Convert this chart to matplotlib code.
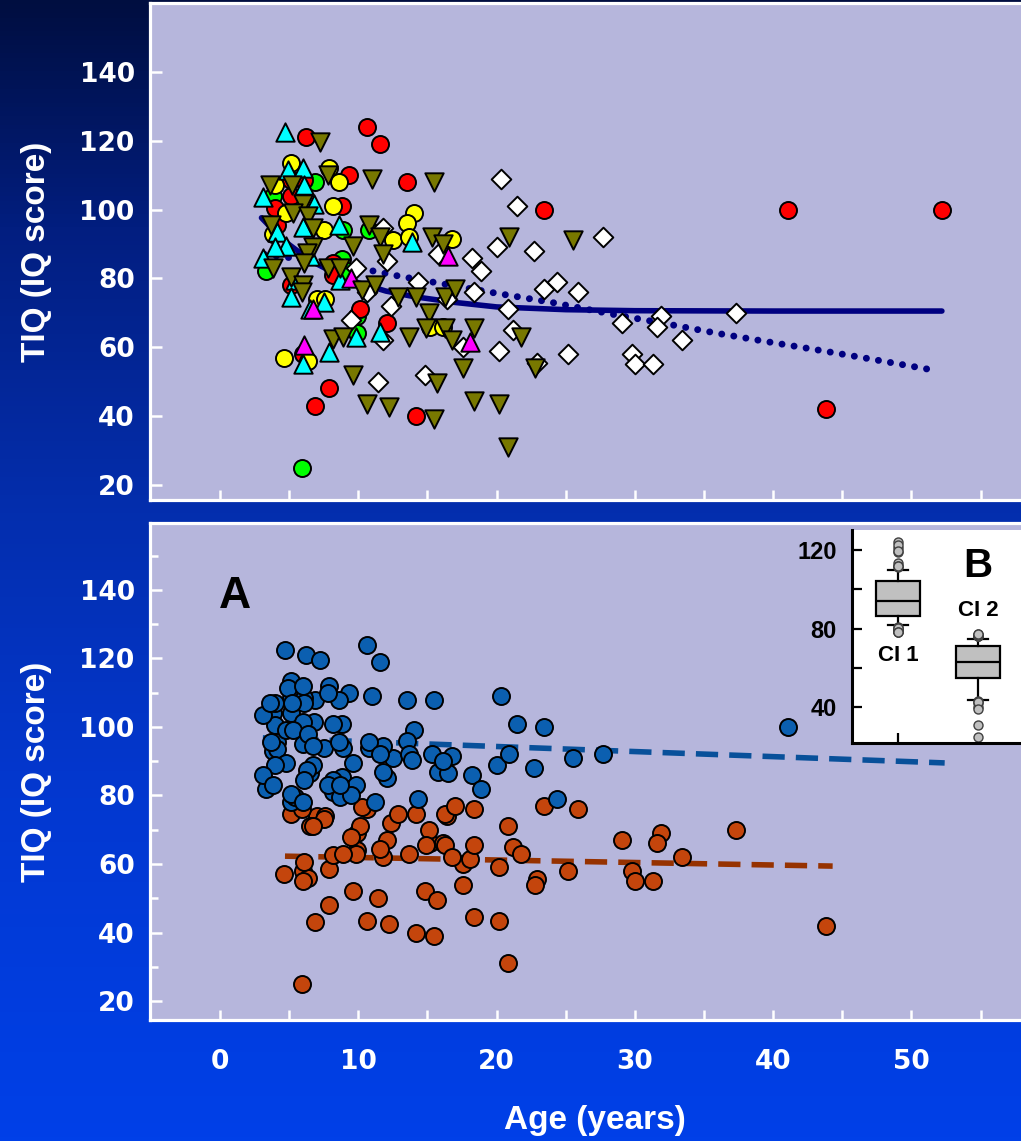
import numpy as np
import matplotlib
matplotlib.use("Agg")
import matplotlib.pyplot as plt
from matplotlib.colors import LinearSegmentedColormap

plt.rcParams['font.family'] = ['Liberation Sans', 'DejaVu Sans']
plt.rcParams['font.weight'] = 'bold'

# ---- data (age in years, TIQ) ----
red_age = [6.2, 10.6, 11.6, 9.3, 13.5, 23.4, 41.1, 52.2, 43.8, 14.2, 7.9, 6.9, 6.0, 10.1, 12.1,
           5.1, 4.0, 8.8, 4.1, 8.2, 8.2, 5.1, 5.1, 6.1]
red_iq = [121, 124, 119, 110, 108, 100, 100, 100, 42, 40, 48, 43, 58, 71, 67,
          104, 100.5, 101, 95.5, 84.5, 81, 78, 108.5, 108.5]

green_age = [5.9, 6.9, 3.8, 3.3, 8.8, 8.9, 10.8, 9.9, 9.9, 9.2]
green_iq = [25, 108, 104, 82, 85.5, 94, 94, 69, 64, 82]

yellow_age = [5.1, 7.9, 8.6, 4.0, 8.2, 4.8, 14.0, 13.5, 7.5, 12.5, 13.7, 3.8, 7.0, 7.6, 4.6, 6.4,
              15.2, 16.1, 16.8]
yellow_iq = [113.5, 112, 108, 107, 101, 99, 99, 96, 94, 91, 92, 93, 74, 74, 57, 56, 66, 66, 91.5]

cyan_age = [4.7, 4.9, 6.0, 3.1, 6.1, 6.8, 6.0, 4.1, 4.8, 4.0, 3.1, 8.6, 8.7, 5.4, 5.1, 7.5, 6.5,
            6.5, 7.9, 6.0, 9.8, 11.6, 13.9]
cyan_iq = [122.5, 111.5, 112, 103.5, 107, 101.5, 95, 93.5, 89.5, 89, 86, 95.5, 79.5, 79.5, 74.5,
           73, 71, 86.5, 58.5, 55, 63, 64.5, 90.5]

magenta_age = [9.5, 6.7, 6.1, 16.5, 18.1]
magenta_iq = [80, 71, 60.5, 86.5, 61.5]

white_age = [20.3, 21.5, 27.7, 22.7, 20.0, 15.8, 18.2, 18.9, 14.3, 18.4, 23.4, 24.4, 25.9, 20.8,
             31.9, 37.3, 29.1, 31.6, 33.4, 29.8, 30.0, 31.3, 25.2, 21.2, 17.6, 20.2, 22.9, 14.8,
             16.4, 11.8, 12.1, 9.8, 10.6, 12.4, 11.8, 11.4, 9.5]
white_iq = [109, 101, 92, 88, 89, 87, 86, 82, 79, 76, 77, 79, 76, 71, 69, 70, 67, 66, 62, 58, 55,
            55, 58, 65, 60, 59, 55.5, 52, 74, 94.5, 85, 83, 76, 72, 62, 50, 68]

olive_age = [7.2, 3.6, 5.2, 7.8, 6.0, 5.3, 6.4, 6.7, 3.7, 6.7, 6.3, 6.1, 3.8, 5.1, 6.0, 5.9, 7.8, 8.7,
             11.0, 15.5, 10.8, 11.6, 15.3, 16.1, 9.6, 11.8, 10.3, 11.2, 12.9, 14.2, 16.3, 15.1,
             14.9, 16.3, 8.2, 8.9, 13.7, 9.6, 15.7, 10.6, 12.2, 15.5, 20.9, 25.5, 17.0, 18.4,
             16.8, 21.8, 22.8, 17.6, 18.4, 20.2, 20.8]
olive_iq = [119.5, 107, 107, 110, 101.5, 99, 98, 94.5, 95.5, 89, 87.5, 84.5, 83, 80.5, 78, 76, 83, 83,
            109, 108, 95.5, 92, 92, 90, 89.5, 87, 76.5, 78, 74.5, 74.5, 74.5, 70,
            65.5, 65.5, 62.5, 63, 63, 52, 49.5, 43.5, 42.5, 39, 92, 91, 77, 65.5,
            62, 63, 54, 54, 44.5, 43.5, 31]

# fitted curves in the upper panel
fit_age = [3.0, 4.0, 5.0, 6.0, 7.0, 8.0, 10.0, 12.0, 14.0, 17.0, 20.0, 25.0, 30.0, 40.0, 52.2]
fit_iq = [97.6, 93.4, 89.8, 86.8, 84.2, 82.1, 78.7, 76.3, 74.7, 73.0, 71.7, 70.9, 70.6, 70.5, 70.5]
lin_age = [3.2, 6.0, 10.0, 13.0, 19.5, 24.0, 28.6, 32.0, 36.0, 40.0, 43.2, 47.0, 51.5]
lin_iq = [87, 85.5, 83, 80.6, 76, 73, 69.4, 67, 64, 61.3, 59.2, 56.6, 53.4]

# regression lines of the two clusters (lower panel)
ci1_line_age = [3.1, 52.4]
ci1_line_iq = [96.8, 89.5]
ci2_line_age = [4.7, 44.3]
ci2_line_iq = [62.3, 59.4]
cluster_split = 77.7

groups = [
    (green_age, green_iq, 'o', '#00ff00', 150),
    (red_age, red_iq, 'o', '#ff0000', 150),
    (yellow_age, yellow_iq, 'o', '#ffff00', 150),
    (white_age, white_iq, 'D', '#ffffff', 100),
    (cyan_age, cyan_iq, '^', '#00ffff', 175),
    (magenta_age, magenta_iq, '^', '#ff00ff', 175),
    (olive_age, olive_iq, 'v', '#787800', 175),
]

W, H = 1021, 1141
fig = plt.figure(figsize=(W / 100, H / 100), dpi=100)

# gradient background
bg = fig.add_axes([0, 0, 1, 1], zorder=-10)
cmap = LinearSegmentedColormap.from_list('bg', [(0.0, '#000e40'), (0.2, '#021e80'),
                                               (0.45, '#042eae'), (0.7, '#0338d0'),
                                               (1.0, '#0040e8')])
bg.imshow(np.linspace(0, 1, 256).reshape(-1, 1), aspect='auto', cmap=cmap,
          extent=[0, 1, 0, 1], origin='upper')
bg.axis('off')

panel_px = W - 150 + 10
panel_w = panel_px / W
ax1 = fig.add_axes([150 / W, 1 - 500 / H, panel_w, 497 / H])
ax2 = fig.add_axes([150 / W, 1 - 1020 / H, panel_w, 497 / H])

xt = np.arange(0, 60, 5)
xl = [str(v) if v % 10 == 0 else '' for v in xt]

for ax in (ax1, ax2):
    ax.set_facecolor('#b6b6dc')
    for s in ('left', 'bottom', 'top'):
        ax.spines[s].set_color('white')
        ax.spines[s].set_linewidth(2.3)
    ax.spines['right'].set_visible(False)
    ax.set_xlim(-5.06, -5.06 + panel_px / 13.83)
    ax.set_xticks(xt)
    ax.set_xticklabels(xl)
    ax.set_yticks([20, 40, 60, 80, 100, 120, 140])
    ax.tick_params(axis='y', direction='in', length=8.5, width=1.8, color='white',
                   labelcolor='white', labelsize=19, pad=11)
    ax.tick_params(axis='x', direction='in', length=7, width=1.8, color='white',
                   labelcolor='white', labelsize=19, pad=21)
    for lab in ax.get_xticklabels() + ax.get_yticklabels():
        lab.set_family('DejaVu Sans')
        lab.set_weight('bold')
    ax.set_ylabel('TIQ (IQ score)', color='white', fontsize=24, fontweight='bold')
    ax.yaxis.set_label_coords(-98 / panel_px, 0.5)

ax1.set_ylim(15.6, 160)
ax1.tick_params(axis='x', labelbottom=False)
ax2.set_ylim(14.5, 159.5)
ax2.set_yticks([30, 50, 70, 90, 110, 130, 150], minor=True)
ax2.tick_params(axis='y', which='minor', direction='in', length=5.5, width=1.8, color='white')

# upper panel: subgroups + fits
ax1.plot(fit_age, fit_iq, color='#000080', lw=4, solid_capstyle='round', zorder=2)
ax1.plot(lin_age, lin_iq, color='#000080', lw=5, linestyle=(0, (0.01, 1.75)),
         dash_capstyle='round', zorder=2)
for i, (a, q, m, c, s) in enumerate(groups):
    ax1.scatter(a, q, marker=m, c=c, s=s, edgecolors='black', linewidths=1.4, zorder=3 + i)

# lower panel: two clusters
all_age = np.concatenate([g[0] for g in groups])
all_iq = np.concatenate([g[1] for g in groups])
hi = all_iq >= cluster_split
ax2.plot(ci1_line_age, ci1_line_iq, color='#08509a', lw=4, linestyle=(0, (4, 2)), zorder=2)
ax2.plot(ci2_line_age, ci2_line_iq, color='#963200', lw=4, linestyle=(0, (4, 2)), zorder=2)
ax2.scatter(all_age[~hi], all_iq[~hi], s=150, c='#c4450c', edgecolors='black', linewidths=1.4, zorder=3)
ax2.scatter(all_age[hi], all_iq[hi], s=150, c='#0b5fb0', edgecolors='black', linewidths=1.4, zorder=4)
fig.text(235 / W, 1 - 597 / H, 'A', ha='center', va='center', fontsize=32, fontweight='bold',
         color='black')

# inset box plot (B)
inset_px = 189
ax3 = fig.add_axes([852 / W, 1 - 743 / H, inset_px / W, 213 / H], zorder=5)
ax3.set_facecolor('white')
for s in ('top', 'right'):
    ax3.spines[s].set_visible(False)
for s in ('left', 'bottom'):
    ax3.spines[s].set_linewidth(2.2)
ax3.boxplot([all_iq[hi], all_iq[~hi]], positions=[1, 2], widths=0.56, whis=(10, 90),
            patch_artist=True, capwidths=0.26,
            boxprops=dict(facecolor='#c0c0c0', edgecolor='black', linewidth=1.6),
            medianprops=dict(color='black', linewidth=1.6),
            whiskerprops=dict(color='black', linewidth=1.6),
            capprops=dict(color='black', linewidth=1.6),
            flierprops=dict(marker='o', markerfacecolor='#c0c0c0', markeredgecolor='#404040',
                            markersize=6.5, markeredgewidth=1))
ax3.set_xlim(0.425, 0.425 + inset_px / 80)
ax3.set_ylim(21.7, 130.2)
ax3.set_xticks([1, 2])
ax3.set_xticklabels(['', ''])
ax3.set_yticks([40, 60, 80, 100, 120])
ax3.set_yticklabels(['40', '', '80', '', '120'])
ax3.tick_params(direction='in', length=7, width=1.6, color='black', labelsize=17, pad=11)
ax3.text(1, 66.5, 'CI 1', ha='center', va='center', fontsize=16, fontweight='bold')
ax3.text(2, 89, 'CI 2', ha='center', va='center', fontsize=16, fontweight='bold')
ax3.text(2, 112, 'B', ha='center', va='center', fontsize=29, fontweight='bold')

fig.text(595 / W, 1 - 1120 / H, 'Age (years)', ha='center', va='center', fontsize=24,
         fontweight='bold', color='white')

fig.savefig('out.png', dpi=100)
